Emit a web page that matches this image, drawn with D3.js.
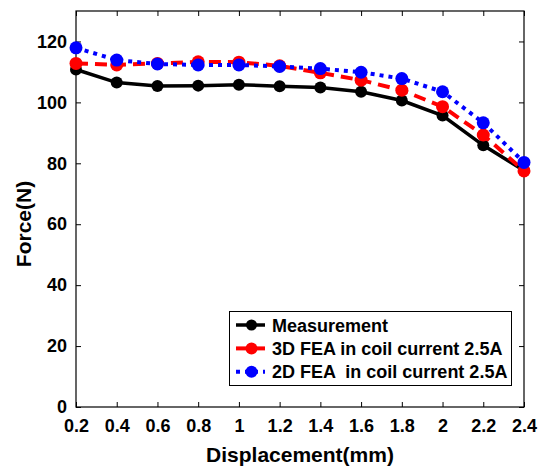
<!DOCTYPE html>
<html>
<head>
<meta charset="utf-8">
<script src="https://cdn.jsdelivr.net/npm/d3@7"></script>
<style>
  body { margin: 0; background: #fff; }
  svg { font-family: "Liberation Sans", Arial, sans-serif; font-weight: bold; }
</style>
</head>
<body>
<svg width="539" height="469"></svg>
<script>
const displacement = [0.2, 0.4, 0.6, 0.8, 1.0, 1.2, 1.4, 1.6, 1.8, 2.0, 2.2, 2.4];
const measurement = [110.8, 106.5, 105.4, 105.5, 105.8, 105.3, 104.9, 103.5, 100.6, 95.7, 85.9, 77.6];
const fea3d = [112.8, 112.3, 112.8, 113.3, 113.2, 112.0, 109.7, 107.3, 104.0, 98.6, 89.3, 77.5];
const fea2d = [117.9, 113.9, 112.6, 112.3, 112.3, 111.8, 111.1, 109.9, 107.8, 103.5, 93.3, 80.3];
const seriesNames = ["Measurement", "3D FEA in coil current 2.5A", "2D FEA  in coil current 2.5A"];
const xTicks = [0.2, 0.4, 0.6, 0.8, 1, 1.2, 1.4, 1.6, 1.8, 2, 2.2, 2.4];
const yTicks = [0, 20, 40, 60, 80, 100, 120];

const svg = d3.select("svg");
const plotLeft = 76, plotRight = 524, plotTop = 11, plotBottom = 407;

const x = d3.scaleLinear().domain([0.2, 2.4]).range([plotLeft, plotRight]);
const y = d3.scaleLinear().domain([0, 130]).range([plotBottom, plotTop]);

const series = [
  { name: seriesNames[0], values: measurement, color: "#000", width: 3.5, dash: null, r: 6 },
  { name: seriesNames[1], values: fea3d, color: "#ff0000", width: 4, dash: "12,7", r: 6.5 },
  { name: seriesNames[2], values: fea2d, color: "#0000ff", width: 4, dash: "4,5", r: 6.5 }
];

// ticks on all four sides, pointing inward
const tickStyle = g => {
  g.select(".domain").remove();
  g.selectAll("line").attr("stroke", "#000").attr("stroke-width", 1);
  g.selectAll("text").attr("fill", "#000").style("font-size", "18px").style("font-weight", "bold");
};

svg.append("g")
  .attr("transform", `translate(0,${plotBottom})`)
  .call(d3.axisBottom(x).tickValues(xTicks).tickFormat(d3.format("~g")).tickSizeInner(-5).tickSizeOuter(0).tickPadding(12))
  .call(tickStyle);

svg.append("g")
  .attr("transform", `translate(0,${plotTop})`)
  .call(d3.axisTop(x).tickValues(xTicks).tickFormat("").tickSizeInner(-5).tickSizeOuter(0))
  .call(tickStyle);

svg.append("g")
  .attr("transform", `translate(${plotLeft},0)`)
  .call(d3.axisLeft(y).tickValues(yTicks).tickSizeInner(-5).tickSizeOuter(0).tickPadding(9))
  .call(tickStyle);

svg.append("g")
  .attr("transform", `translate(${plotRight},0)`)
  .call(d3.axisRight(y).tickValues(yTicks).tickFormat("").tickSizeInner(-5).tickSizeOuter(0))
  .call(tickStyle);

svg.append("rect")
  .attr("x", plotLeft).attr("y", plotTop)
  .attr("width", plotRight - plotLeft).attr("height", plotBottom - plotTop)
  .attr("fill", "none").attr("stroke", "#000").attr("stroke-width", 1.2);

const line = d3.line().x((d, i) => x(displacement[i])).y(d => y(d));

series.forEach(s => {
  svg.append("path")
    .datum(s.values)
    .attr("d", line)
    .attr("fill", "none")
    .attr("stroke", s.color)
    .attr("stroke-width", s.width)
    .attr("stroke-dasharray", s.dash);
  svg.append("g").selectAll("circle")
    .data(s.values)
    .enter().append("circle")
    .attr("cx", (d, i) => x(displacement[i]))
    .attr("cy", d => y(d))
    .attr("r", s.r)
    .attr("fill", s.color);
});

// Legend
const legend = svg.append("g");
legend.append("rect")
  .attr("x", 229.5).attr("y", 311.5)
  .attr("width", 282).attr("height", 74)
  .attr("fill", "#fff").attr("stroke", "#000").attr("stroke-width", 1);

series.forEach((s, i) => {
  const ly = 325 + i * 23.4;
  legend.append("line")
    .attr("x1", 236).attr("x2", 265)
    .attr("y1", ly).attr("y2", ly)
    .attr("stroke", s.color)
    .attr("stroke-width", s.width)
    .attr("stroke-dasharray", i === 2 ? "4,5" : null);
  legend.append("circle")
    .attr("cx", 251.5).attr("cy", ly).attr("r", s.r - 0.5).attr("fill", s.color);
  legend.append("text")
    .attr("x", 272).attr("y", ly + 6.5)
    .style("font-size", "18px")
    .style("white-space", "pre")
    .text(s.name);
});

// Axis titles
svg.append("text")
  .attr("x", (plotLeft + plotRight) / 2).attr("y", 462)
  .attr("text-anchor", "middle")
  .style("font-size", "21px")
  .text("Displacement(mm)");

svg.append("text")
  .attr("transform", "rotate(-90)")
  .attr("x", -224).attr("y", 31)
  .attr("text-anchor", "middle")
  .style("font-size", "21px")
  .text("Force(N)");
</script>
</body>
</html>
